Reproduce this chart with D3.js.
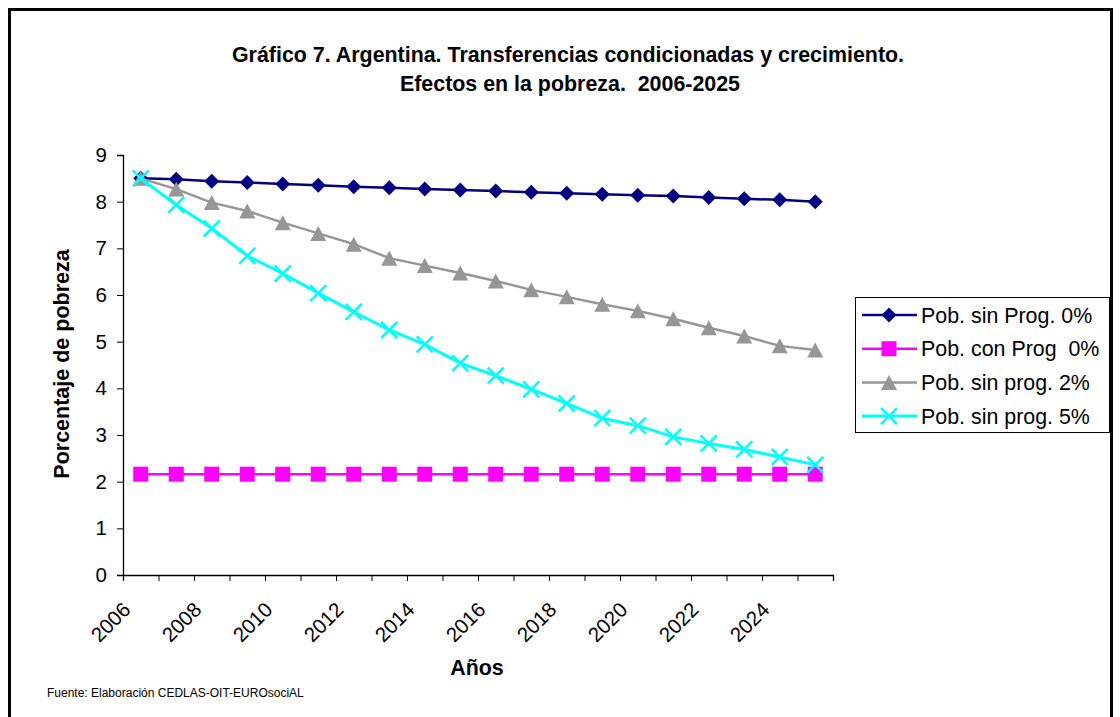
<!DOCTYPE html>
<html>
<head>
<meta charset="utf-8">
<script src="https://cdn.jsdelivr.net/npm/d3@7"></script>
<style>
  body { margin: 0; background: #fff; }
  text { font-family: Arial, "Liberation Sans", sans-serif; }
</style>
</head>
<body>
<div id="chart"></div>
<script>
// Gráfico 7 - pobreza 2006-2025

const years = d3.range(2006, 2026);
const yTicks = [0, 1, 2, 3, 4, 5, 6, 7, 8, 9];
const labelYears = [2006, 2008, 2010, 2012, 2014, 2016, 2018, 2020, 2022, 2024];

const sinProg0 = [8.50, 8.48, 8.44, 8.41, 8.38, 8.35, 8.32, 8.30, 8.27, 8.25, 8.23, 8.20, 8.18, 8.16, 8.14, 8.12, 8.09, 8.06, 8.04, 8.00];
const conProg0 = [2.16, 2.16, 2.16, 2.16, 2.16, 2.16, 2.16, 2.16, 2.16, 2.16, 2.16, 2.16, 2.16, 2.16, 2.16, 2.16, 2.16, 2.16, 2.16, 2.16];
const sinProg2 = [8.50, 8.27, 7.98, 7.80, 7.55, 7.32, 7.09, 6.79, 6.63, 6.47, 6.30, 6.11, 5.96, 5.80, 5.66, 5.49, 5.30, 5.12, 4.91, 4.82];
const sinProg5 = [8.50, 7.93, 7.43, 6.84, 6.46, 6.04, 5.64, 5.25, 4.94, 4.54, 4.27, 3.98, 3.68, 3.36, 3.20, 2.96, 2.82, 2.69, 2.53, 2.36];

const seriesNames = ["Pob. sin Prog. 0%", "Pob. con Prog  0%", "Pob. sin prog. 2%", "Pob. sin prog. 5%"];
const seriesColors = ["#000080", "#ff00ff", "#969696", "#00ffff"];
const seriesMarkers = ["diamond", "square", "triangle", "cross"];

const W = 1120, H = 717;
const plot = {left: 123, right: 833, top: 155, bottom: 575};

const svg = d3.select("#chart").append("svg")
    .attr("width", W)
    .attr("height", H);

svg.append("rect").attr("width", W).attr("height", H).attr("fill", "#fff");

// outer frame
svg.append("rect")
    .attr("x", 9.5).attr("y", 9.5)
    .attr("width", 1102).attr("height", 740)
    .attr("fill", "none")
    .attr("stroke", "#000")
    .attr("stroke-width", 3);

// title
const title = svg.append("text")
    .attr("text-anchor", "middle")
    .style("font-weight", "bold")
    .style("font-size", "21.4px")
    .style("white-space", "pre");
title.append("tspan").attr("x", 568).attr("y", 62)
    .text("Gráfico 7. Argentina. Transferencias condicionadas y crecimiento.");
title.append("tspan").attr("x", 570).attr("y", 91)
    .text("Efectos en la pobreza.  2006-2025");

// scales
const xIdx = d3.scaleLinear().domain([0, years.length]).range([plot.left, plot.right]);
const x = yr => xIdx(years.indexOf(yr) + 0.5);
const y = d3.scaleLinear().domain([0, 9]).range([plot.bottom, plot.top]);

// y axis
const yAxis = svg.append("g")
    .attr("transform", `translate(${plot.left},0)`)
    .call(d3.axisLeft(y).tickValues(yTicks).tickSize(6).tickPadding(10).tickFormat(d3.format("d")));
yAxis.select(".domain").attr("stroke", "#000").attr("stroke-width", 1.3);
yAxis.selectAll("text").style("font-size", "20.5px").attr("fill", "#000")
    .style("font-family", "Arial, 'Liberation Sans', sans-serif");

// x axis (ticks between categories)
const xAxis = svg.append("g")
    .attr("transform", `translate(0,${plot.bottom})`)
    .call(d3.axisBottom(xIdx).tickValues(d3.range(years.length + 1)).tickSize(6).tickFormat(""));
xAxis.select(".domain").attr("stroke", "#000").attr("stroke-width", 1.3);

svg.append("g").selectAll("text")
    .data(labelYears)
    .enter()
    .append("text")
    .attr("transform", d => `translate(${x(d) - 9},611) rotate(-45)`)
    .attr("text-anchor", "end")
    .style("font-size", "20.5px")
    .text(d => d);

// axis titles
svg.append("text")
    .attr("transform", "translate(69,364) rotate(-90)")
    .attr("text-anchor", "middle")
    .style("font-weight", "bold")
    .style("font-size", "21.5px")
    .text("Porcentaje de pobreza");

svg.append("text")
    .attr("x", 477).attr("y", 675)
    .attr("text-anchor", "middle")
    .style("font-weight", "bold")
    .style("font-size", "21.4px")
    .text("Años");

svg.append("text")
    .attr("x", 47).attr("y", 697)
    .style("font-size", "12px")
    .text("Fuente: Elaboración CEDLAS-OIT-EUROsociAL");

// markers
function drawMarker(g, type, color) {
    if (type === "diamond") {
        g.append("path").attr("d", "M0,-7.5L7.5,0L0,7.5L-7.5,0Z").attr("fill", color);
    } else if (type === "square") {
        g.append("rect").attr("x", -7.5).attr("y", -7.5).attr("width", 15).attr("height", 15).attr("fill", color);
    } else if (type === "triangle") {
        g.append("path").attr("d", "M0,-7.5L8,7.5L-8,7.5Z").attr("fill", color);
    } else {
        g.append("path").attr("d", "M-8,-8L8,8M-8,8L8,-8").attr("stroke", color).attr("stroke-width", 2.5);
    }
}

const allSeries = [sinProg0, conProg0, sinProg2, sinProg5];
const line = d3.line().x((d, i) => x(years[i])).y(d => y(d));

allSeries.forEach((vals, s) => {
    svg.append("path")
        .datum(vals)
        .attr("d", line)
        .attr("fill", "none")
        .attr("stroke", seriesColors[s])
        .attr("stroke-width", s === 3 ? 3 : 2.5);
    svg.append("g").selectAll("g")
        .data(vals)
        .enter()
        .append("g")
        .attr("transform", (d, i) => `translate(${x(years[i])},${y(d)})`)
        .each(function () { drawMarker(d3.select(this), seriesMarkers[s], seriesColors[s]); });
});

// legend
const legend = svg.append("g").attr("transform", "translate(855,297)");
legend.append("rect")
    .attr("x", 0.5).attr("y", 0.5)
    .attr("width", 254).attr("height", 135)
    .attr("fill", "#fff")
    .attr("stroke", "#000")
    .attr("stroke-width", 1);

const items = legend.selectAll(".item")
    .data(seriesNames)
    .enter()
    .append("g")
    .attr("class", "item")
    .attr("transform", (d, i) => `translate(0,${18 + i * 33.7})`);

items.append("line")
    .attr("x1", 7).attr("x2", 62)
    .attr("stroke", (d, i) => seriesColors[i])
    .attr("stroke-width", (d, i) => i === 3 ? 3 : 2.5);
items.append("g")
    .attr("transform", "translate(34,0)")
    .each(function (d, i) { drawMarker(d3.select(this), seriesMarkers[i], seriesColors[i]); });
items.append("text")
    .attr("x", 66).attr("y", 7.5)
    .style("font-size", "21.4px")
    .style("white-space", "pre")
    .text(d => d);
</script>
</body>
</html>
